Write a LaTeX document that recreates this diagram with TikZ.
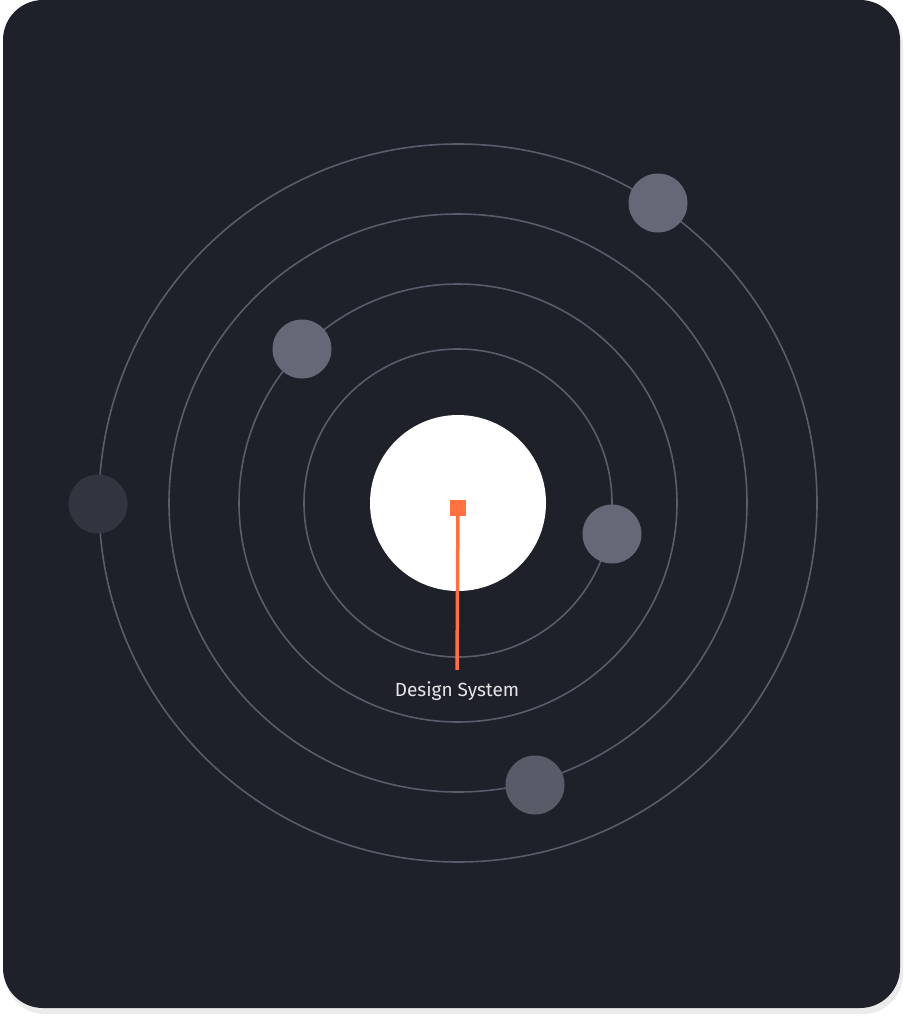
\documentclass[tikz,border=0pt]{standalone}
\usepackage{fontspec}
\setmainfont{Fira Sans}
\definecolor{cardbg}{HTML}{1E202A}
\definecolor{shadowgray}{HTML}{EBEBEC}
\definecolor{orbitgray}{HTML}{5A5C6B}
\definecolor{planetgray}{HTML}{676877}
\definecolor{planetdim}{HTML}{595B69}
\definecolor{planetdark}{HTML}{32343F}
\definecolor{dsorange}{HTML}{FF7140}
\definecolor{labelgray}{HTML}{E6E6E8}

\tikzset{
  orbit/.style={draw=orbitgray, line width=1.6pt},
  planet/.style={circle, inner sep=0pt, minimum size=59pt, fill=#1},
  core/.style={rectangle, inner sep=0pt, minimum size=16pt, fill=dsorange},
  stem/.style={draw=dsorange, line width=3.5pt},
  dslabel/.style={font=\fontsize{19}{23}\selectfont, text=labelgray, inner sep=11pt}
}

\begin{document}
\begin{tikzpicture}[x=1pt,y=-1pt]
\useasboundingbox (0,0) rectangle (904,1020);
\fill[white] (0,0) rectangle (904,1020);
% card and its shadow
\fill[shadowgray, rounded corners=40pt] (5,6) rectangle (903,1014);
\fill[cardbg, rounded corners=40pt] (3,0) rectangle (900,1008);
% orbits
\foreach \r in {154,219,289,359}
\draw[orbit] (458,503) circle[radius=\r];
% sun
\fill[white] (458,503) circle[radius=88];
% planets
\node[planet=planetgray] (p1) at (658,203) {};
\node[planet=planetgray] (p2) at (302,349) {};
\node[planet=planetgray] (p3) at (612,534) {};
\node[planet=planetdim] (p4) at (535,785) {};
\node[planet=planetdark] (p5) at (98,504) {};
% label
\node[core] (ds) at (458,508) {};
\node[dslabel, anchor=base] (lbl) at (457,696) {Design System};
\draw[stem] (ds) -- (lbl.north);
\end{tikzpicture}
\end{document}
